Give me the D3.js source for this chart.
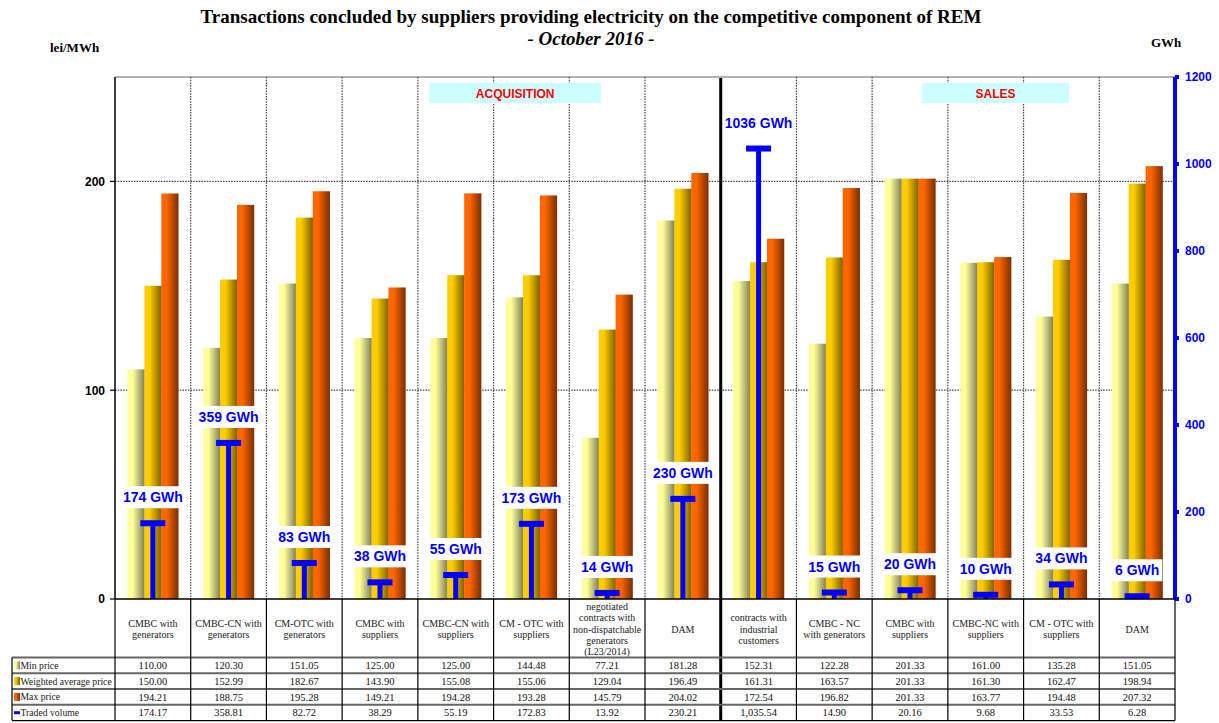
<!DOCTYPE html>
<html><head><meta charset="utf-8">
<script src="https://cdn.jsdelivr.net/npm/d3@7"></script>
<style>body{margin:0;background:#fff}</style>
</head><body>
<svg id="c" width="1219" height="723"></svg>
<script>
const categories = [
 "CMBC with|generators","CMBC-CN with|generators","CM-OTC with|generators","CMBC with|suppliers",
 "CMBC-CN with|suppliers","CM - OTC with|suppliers","negotiated|contracts with|non-dispatchable|generators|(L23/2014)",
 "DAM","contracts with|industrial|customers","CMBC - NC|with generators","CMBC with|suppliers",
 "CMBC-NC with|suppliers","CM - OTC with|suppliers","DAM"];
const minPrice = [110.00,120.30,151.05,125.00,125.00,144.48,77.21,181.28,152.31,122.28,201.33,161.00,135.28,151.05];
const avgPrice = [150.00,152.99,182.67,143.90,155.08,155.06,129.04,196.49,161.31,163.57,201.33,161.30,162.47,198.94];
const maxPrice = [194.21,188.75,195.28,149.21,194.28,193.28,145.79,204.02,172.54,196.82,201.33,163.77,194.48,207.32];
const volume   = [174.17,358.81,82.72,38.29,55.19,172.83,13.92,230.21,1035.54,14.90,20.16,9.68,33.53,6.28];
const volumeLabels = ["174 GWh","359 GWh","83 GWh","38 GWh","55 GWh","173 GWh","14 GWh","230 GWh","1036 GWh","15 GWh","20 GWh","10 GWh","34 GWh","6 GWh"];
const leftTicks = [0,100,200];
const rightTicks = [0,200,400,600,800,1000,1200];
const seriesNames = ["Min price","Weighted average price","Max price","Traded volume"];

const svg = d3.select("#c");
const SERIF = "'Liberation Serif','Times New Roman',serif";
const SANS = "'Liberation Sans',Arial,sans-serif";
const L=115,R=1175,T=77,B=599;
const x = d3.scaleBand().domain(d3.range(categories.length)).range([L,R]);
const bw = x.bandwidth();
const xs = d3.scaleBand().domain([0,1,2]).range([12.5,bw-12.5]);
const yL = d3.scaleLinear().domain([0,250]).range([B,T]);
const yR = d3.scaleLinear().domain([0,1200]).range([B,T]);

// gradients
const defs = svg.append("defs");
const grads = [["gMin","#FFFF99","#FFFF99","#7F7F5A"],["gAvg","#FFCC00","#FFCC00","#7A6000"],["gMax","#FF6600","#FF6600","#7A2E00"]];
grads.forEach(g=>{
  const lg = defs.append("linearGradient").attr("id",g[0]).attr("x1","0").attr("x2","1").attr("y1","0").attr("y2","0");
  lg.append("stop").attr("offset","0").attr("stop-color",g[1]);
  lg.append("stop").attr("offset","0.3").attr("stop-color",g[2]);
  lg.append("stop").attr("offset","1").attr("stop-color",g[3]);
});

// title
svg.append("text").attr("x",591).attr("y",23).attr("text-anchor","middle").attr("font-family",SERIF)
  .attr("font-weight","bold").attr("font-size",19).text("Transactions concluded by suppliers providing electricity on the competitive component of REM");
svg.append("text").attr("x",591).attr("y",45).attr("text-anchor","middle").attr("font-family",SERIF)
  .attr("font-weight","bold").attr("font-style","italic").attr("font-size",19).text("- October 2016 -");
svg.append("text").attr("x",50).attr("y",52).attr("font-family",SERIF).attr("font-weight","bold").attr("font-size",13).text("lei/MWh");
svg.append("text").attr("x",1151).attr("y",47).attr("font-family",SERIF).attr("font-weight","bold").attr("font-size",13).text("GWh");

// top border
svg.append("line").attr("x1",L).attr("x2",R).attr("y1",T).attr("y2",T).attr("stroke","#999").attr("stroke-width",1.5);

// gridlines
svg.append("g").selectAll("line").data(leftTicks.filter(d=>d>0)).join("line")
  .attr("x1",L).attr("x2",R).attr("y1",d=>yL(d)).attr("y2",d=>yL(d))
  .attr("stroke","#444").attr("stroke-width",1.2).attr("stroke-dasharray","1.5,1.2");
svg.append("g").selectAll("line").data(d3.range(1,categories.length).filter(i=>i!==8)).join("line")
  .attr("x1",i=>x(i)).attr("x2",i=>x(i)).attr("y1",T).attr("y2",B)
  .attr("stroke","#444").attr("stroke-width",1.2).attr("stroke-dasharray","1.5,1.2");

// ACQUISITION / SALES
[["ACQUISITION",4.15,6.42],["SALES",10.66,12.6]].forEach(s=>{
  const x0 = L+s[1]*bw, x1 = L+s[2]*bw;
  svg.append("rect").attr("x",x0).attr("y",83).attr("width",x1-x0).attr("height",20).attr("fill","#CCFFFF");
  svg.append("text").attr("x",(x0+x1)/2).attr("y",97.5).attr("text-anchor","middle").attr("font-family",SANS)
    .attr("font-weight","bold").attr("font-size",12).attr("fill","#FF0000").text(s[0]);
});

// bars
const series = [minPrice,avgPrice,maxPrice];
const gb = svg.append("g");
series.forEach((arr,si)=>{
  gb.append("g").selectAll("rect").data(arr).join("rect")
    .attr("x",(d,i)=>x(i)+xs(si)).attr("width",xs.bandwidth()+0.3)
    .attr("y",d=>yL(d)).attr("height",d=>yL(0)-yL(d))
    .attr("fill","url(#"+grads[si][0]+")");
});

// volume T-marks
const gv = svg.append("g");
gv.selectAll("rect.stem").data(volume).join("rect").attr("class","stem")
  .attr("x",(d,i)=>x(i)+bw/2-2.5).attr("width",5).attr("y",d=>yR(d)).attr("height",d=>yR(0)-yR(d)).attr("fill","#0000FF");
gv.selectAll("rect.cap").data(volume).join("rect").attr("class","cap")
  .attr("x",(d,i)=>x(i)+bw/2-12.5).attr("width",25).attr("y",d=>yR(d)-3).attr("height",6).attr("fill","#0000FF");
const lab = svg.append("g").selectAll("g").data(volume).join("g")
  .attr("transform",(d,i)=>`translate(${x(i)+bw/2},${yR(d)-26})`);
lab.append("rect").attr("fill","#fff");
lab.append("text").attr("text-anchor","middle").attr("dy","0.36em").attr("font-family",SANS)
  .attr("font-weight","bold").attr("font-size",14).attr("fill","#0000FF").text((d,i)=>volumeLabels[i]);
lab.each(function(){
  const t = d3.select(this).select("text").node().getBBox();
  d3.select(this).select("rect").attr("x",t.x-3).attr("y",-11).attr("width",t.width+6).attr("height",22);
});

// thick separator
svg.append("line").attr("x1",x(8)).attr("x2",x(8)).attr("y1",T+1).attr("y2",721).attr("stroke","#000").attr("stroke-width",3);

// left axis
svg.append("line").attr("x1",L).attr("x2",L).attr("y1",T).attr("y2",B).attr("stroke","#000").attr("stroke-width",1.5);
const la = svg.append("g").selectAll("g").data(leftTicks).join("g").attr("transform",d=>`translate(0,${yL(d)})`);
la.append("line").attr("x1",L-5).attr("x2",L).attr("stroke","#000").attr("stroke-width",1.2);
la.append("text").attr("x",105).attr("dy","0.36em").attr("text-anchor","end").attr("font-family",SANS)
  .attr("font-weight","bold").attr("font-size",12).text(d=>d);

// right axis
svg.append("line").attr("x1",R).attr("x2",R).attr("y1",T).attr("y2",B).attr("stroke","#0000FF").attr("stroke-width",4);
const ra = svg.append("g").selectAll("g").data(rightTicks).join("g").attr("transform",d=>`translate(0,${yR(d)})`);
ra.append("rect").attr("x",R).attr("y",-2).attr("width",4).attr("height",4).attr("fill","#0000FF");
ra.append("text").attr("x",1185).attr("dy","0.36em").attr("font-family",SANS)
  .attr("font-weight","bold").attr("font-size",12).attr("fill","#0000FF").text(d=>d);

// table
const rowY = [657.5,673.3,689,704.8,720.6];
const tb = svg.append("g");
// category labels
categories.forEach((c,i)=>{
  const lines = c.split("|");
  const lh = 11.3;
  const cy = 629 - (lines.length-1)*lh/2;
  const t = tb.append("text").attr("text-anchor","middle").attr("font-family",SERIF).attr("font-size",10).attr("fill","#222");
  lines.forEach((ln,k)=>t.append("tspan").attr("x",x(i)+bw/2).attr("y",cy+k*lh).attr("dy","0.35em").text(ln));
});
// horizontal lines
tb.append("line").attr("x1",L).attr("x2",R).attr("y1",B).attr("y2",B).attr("stroke","#000").attr("stroke-width",1.5);
rowY.forEach((y,k)=>tb.append("line").attr("x1",12).attr("x2",R).attr("y1",y).attr("y2",y)
  .attr("stroke",k===rowY.length-1?"#000":"#666").attr("stroke-width",k===rowY.length-1?1.2:2));
// vertical lines
d3.range(0,categories.length+1).forEach(i=>{
  if(i===8) return;
  const xv = i===categories.length? R : x(i);
  tb.append("line").attr("x1",xv).attr("x2",xv).attr("y1",B).attr("y2",rowY[4]).attr("stroke","#000").attr("stroke-width",1.2);
});
tb.append("line").attr("x1",12).attr("x2",12).attr("y1",rowY[0]).attr("y2",rowY[4]).attr("stroke","#000").attr("stroke-width",1.2);
// legend entries
const fmt = d3.format(",.2f");
const tableSeries = [minPrice,avgPrice,maxPrice,volume];
seriesNames.forEach((n,k)=>{
  const yc = (rowY[k]+rowY[k+1])/2;
  if(k<3){
    tb.append("rect").attr("x",14).attr("y",yc-4).attr("width",6).attr("height",8).attr("fill","url(#"+grads[k][0]+")");
  } else {
    tb.append("rect").attr("x",14).attr("y",yc-1.5).attr("width",6).attr("height",3).attr("fill","#0000FF");
  }
  tb.append("text").attr("x",20.5).attr("y",yc).attr("dy","0.35em").attr("font-family",SERIF).attr("font-size",9.7).attr("fill","#222").text(n);
  tb.append("g").selectAll("text").data(tableSeries[k]).join("text")
    .attr("x",(d,i)=>x(i)+bw/2).attr("y",yc).attr("dy","0.35em").attr("text-anchor","middle")
    .attr("font-family",SERIF).attr("font-size",10.5).attr("fill","#111").text(d=>fmt(d));
});
</script>
</body></html>
